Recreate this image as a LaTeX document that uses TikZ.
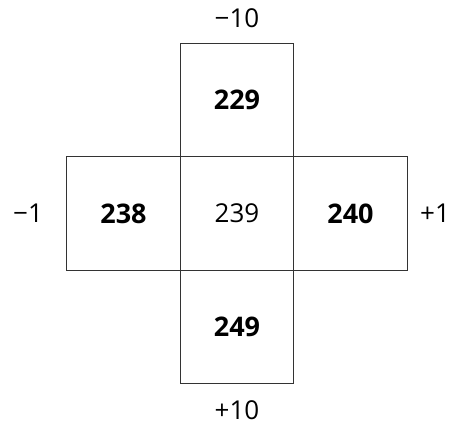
\documentclass[tikz,border=0pt]{standalone}
\usepackage{fontspec}
\setmainfont{Open Sans}
\begin{document}
\begin{tikzpicture}[x=1pt,y=-1pt,
  cell/.style={draw=black!80,line width=1pt,minimum width=113.5pt,minimum height=113.5pt,inner sep=0pt,font=\fontsize{26}{30}\selectfont},
  bcell/.style={cell,font=\fontsize{27}{31}\selectfont\bfseries},
  lab/.style={font=\fontsize{26}{30}\selectfont,inner sep=0pt}]
\useasboundingbox (0,0) rectangle (461,428);
\node[cell] (c) at (237,213.5) {239};
\node[bcell] (t) at (237,100) {229};
\node[bcell] (b) at (237,327) {249};
\node[bcell] (l) at (123.5,213.5) {238};
\node[bcell] (r) at (350.5,213.5) {240};
\node[lab] (tl) at (237,18) {−10};
\node[lab] (bl) at (237,410) {+10};
\node[lab] (ll) at (28,213.5) {−1};
\node[lab] (rl) at (435,213.5) {+1};
\end{tikzpicture}
\end{document}
